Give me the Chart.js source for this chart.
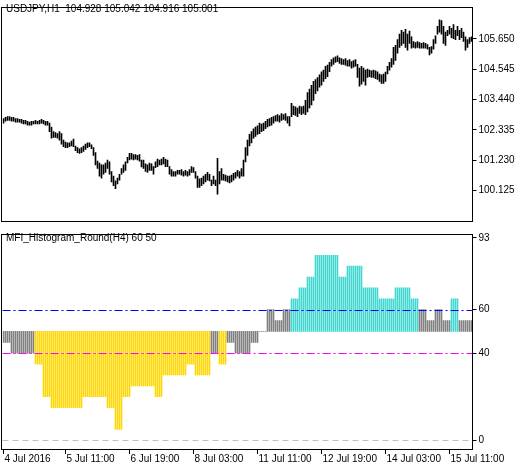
<!DOCTYPE html>
<html><head><meta charset="utf-8">
<script src="https://cdn.jsdelivr.net/npm/chart.js@4"></script>
<style>
body{margin:0;background:#fff;width:524px;height:469px;position:relative;overflow:hidden;font-family:'Liberation Sans',sans-serif}
canvas{position:absolute;left:0}
.t{position:absolute;font-size:10px;color:#000;white-space:pre}
</style></head><body>
<canvas id="c1" style="top:0" width="524" height="229"></canvas>
<canvas id="c2" style="top:227px" width="524" height="242"></canvas>
<div class="t" style="left:6px;top:3px">USDJPY,H1  104.928 105.042 104.916 105.001</div>
<div class="t" style="left:6px;top:232px">MFI_Histogram_Round(H4) 60 50</div>
<script>
const highs=[102.75,102.79,102.82,102.82,102.79,102.79,102.75,102.75,102.72,102.72,
102.68,102.68,102.65,102.62,102.65,102.65,102.68,102.65,102.68,102.72,
102.68,102.65,102.65,102.58,102.44,102.27,102.24,102.20,102.27,102.20,
101.96,101.89,101.86,101.86,101.93,102.0,101.75,101.69,101.65,101.69,
101.75,101.82,101.86,101.86,101.79,101.69,101.51,101.20,101.13,101.06,
101.06,101.13,101.24,101.17,100.82,100.65,100.48,100.58,100.72,100.93,
101.06,101.17,101.34,101.48,101.48,101.44,101.44,101.41,101.44,101.24,
101.24,101.10,101.06,101.13,101.10,101.0,101.17,101.27,101.24,101.27,
101.34,101.27,101.24,101.0,100.89,100.82,100.82,100.86,100.86,100.89,
100.82,100.86,100.82,100.89,101.0,100.96,100.82,100.65,100.55,100.58,
100.65,100.72,100.79,100.72,100.51,100.65,100.51,101.30,100.82,100.93,
100.72,100.69,100.65,100.65,100.69,100.75,100.79,100.86,100.82,100.93,
101.24,101.69,101.96,102.17,102.27,102.37,102.44,102.48,102.58,102.55,
102.58,102.65,102.72,102.75,102.79,102.82,102.86,102.89,102.86,102.93,
102.89,102.93,102.82,102.82,103.30,103.20,103.17,103.13,103.20,103.17,
103.20,103.41,103.69,103.82,103.96,104.10,104.17,104.24,104.34,104.45,
104.51,104.65,104.69,104.79,104.89,104.96,104.99,105.03,104.96,104.93,
104.89,104.93,104.86,104.89,104.82,104.86,104.89,104.72,104.58,104.65,
104.58,104.51,104.55,104.51,104.48,104.51,104.48,104.45,104.37,104.34,
104.37,104.44,104.65,104.79,104.93,105.34,105.41,105.62,105.82,105.96,
105.89,105.99,105.82,105.93,105.72,105.55,105.51,105.55,105.51,105.48,
105.51,105.48,105.44,105.34,105.37,105.62,105.76,106.10,106.34,106.31,
106.10,105.89,105.96,106.10,106.03,106.17,105.96,106.10,105.96,106.03,
105.89,105.72,105.62,105.69,105.72];
const lows=[102.58,102.65,102.68,102.68,102.65,102.65,102.62,102.62,102.62,102.58,
102.55,102.55,102.51,102.51,102.51,102.55,102.55,102.55,102.55,102.58,
102.55,102.51,102.51,102.27,102.03,102.06,102.06,102.03,101.96,101.82,
101.72,101.69,101.69,101.72,101.75,101.72,101.58,101.51,101.48,101.51,
101.55,101.62,101.69,101.72,101.65,101.41,101.06,100.93,100.65,100.58,
100.72,100.79,100.93,100.72,100.44,100.31,100.20,100.37,100.51,100.72,
100.79,100.86,101.13,101.24,101.27,101.24,101.27,101.24,101.20,100.99,
100.93,100.82,100.79,100.86,100.86,100.72,100.96,101.0,101.06,101.06,
101.10,101.0,101.0,100.72,100.65,100.65,100.65,100.72,100.72,100.69,
100.65,100.69,100.65,100.69,100.79,100.79,100.58,100.24,100.24,100.31,
100.37,100.44,100.51,100.48,100.31,100.37,100.31,100.0,100.37,100.51,
100.51,100.48,100.44,100.41,100.44,100.51,100.58,100.65,100.58,100.65,
100.65,101.17,101.41,101.75,101.86,102.03,102.10,102.17,102.20,102.27,
102.31,102.38,102.44,102.48,102.51,102.58,102.65,102.65,102.62,102.68,
102.72,102.68,102.58,102.48,102.82,102.89,102.86,102.82,102.93,102.89,
102.93,102.89,102.99,103.13,103.24,103.41,103.65,103.75,103.89,103.96,
104.10,104.20,104.27,104.45,104.65,104.72,104.79,104.82,104.75,104.72,
104.72,104.69,104.65,104.65,104.58,104.62,104.65,104.24,103.93,104.0,
104.10,103.96,104.24,104.27,104.24,104.24,104.20,104.17,104.10,104.03,
104.03,104.10,104.37,104.51,104.62,104.72,104.86,105.13,105.34,105.41,
105.48,105.34,105.24,105.48,105.31,105.34,105.31,105.34,105.31,105.31,
105.31,105.31,105.27,105.06,105.13,105.27,105.48,105.82,105.89,105.82,
105.48,105.41,105.76,105.82,105.69,105.65,105.62,105.76,105.62,105.69,
105.55,105.24,105.34,105.48,105.55];
const priceTicks=[100.125,101.230,102.335,103.440,104.545,105.650];
// MFI rounded values on the H4 timeframe (each spans four H1 bars)
const mfiH4=[45,40,40,40,35,20,15,15,15,15,20,20,20,15,5,20,25,25,25,20,30,30,30,35,30,30,40,35,45,40,40,45,50,60,55,60,65,70,75,85,85,85,75,80,80,70,70,65,65,70,70,65,60,55,60,55,65,55,55];
const mfiTicks=[93,60,40,0];
const levels=[60,40,0];
const levelColors=['#0000ff','#ff00ff','#c0c0c0'];
const timeLabels=['4 Jul 2016','5 Jul 11:00','6 Jul 19:00','8 Jul 03:00','11 Jul 11:00','12 Jul 19:00','14 Jul 03:00','15 Jul 11:00'];
const timeIdx=[0,31,63,95,127,159,191,223];

const idx=highs.map((_,i)=>i);
const mfi=idx.map(i=>mfiH4[Math.floor(i/4)]);
const FONT={family:'Liberation Sans',size:10};
Chart.defaults.animation=false;

const frame={id:'frame',afterDraw(c){const a=c.chartArea,x=c.ctx;x.save();x.strokeStyle='#000';x.lineWidth=1;
x.strokeRect(Math.floor(a.left)+0.5-1,Math.floor(a.top)+0.5-1,Math.round(a.right-a.left)+1,Math.round(a.bottom-a.top)+1);x.restore();}};

function yAxis(min,max,ticks,fmt){return{position:'right',min,max,
 afterBuildTicks(s){s.ticks=ticks.map(v=>({value:v}));},
 afterFit(s){s.width=51.5;},
 border:{display:false},
 grid:{drawOnChartArea:false,drawTicks:true,tickLength:4,color:'#000'},
 ticks:{color:'#000',font:FONT,padding:2,callback:fmt}};}

new Chart(document.getElementById('c1'),{type:'bar',
 data:{labels:idx,datasets:[{data:idx.map(i=>[lows[i],highs[i]]),backgroundColor:'#000',barThickness:1,grouped:false}]},
 options:{responsive:false,layout:{padding:{left:2.5,top:2,bottom:2}},
  plugins:{legend:{display:false},tooltip:{enabled:false}},
  scales:{x:{display:false},y:yAxis(99.02,106.77,priceTicks,v=>v.toFixed(3))}},
 plugins:[frame]});

const lvl={id:'lvl',afterDatasetsDraw(c){const a=c.chartArea,x=c.ctx,y=c.scales.y;x.save();x.lineWidth=1;
 levels.forEach((v,k)=>{const py=Math.round(y.getPixelForValue(v))+0.5;x.strokeStyle=levelColors[k];
 x.setLineDash(k==2?[6,4]:[8,3,2,3]);x.beginPath();x.moveTo(a.left,py);x.lineTo(a.right,py);x.stroke();});x.restore();},
 afterDraw(c){const a=c.chartArea,x=c.ctx,s=c.scales.x;x.save();x.fillStyle='#000';x.strokeStyle='#000';x.font='10px Liberation Sans';x.textBaseline='top';
 timeIdx.forEach((t,k)=>{const px=Math.floor(s.getPixelForValue(t))+0.5;x.beginPath();x.moveTo(px,a.bottom);x.lineTo(px,a.bottom+5);x.stroke();x.fillText(timeLabels[k],px+1,a.bottom+5);});x.restore();}};

new Chart(document.getElementById('c2'),{type:'bar',
 data:{labels:idx,datasets:[{data:mfi.map(v=>[50,v]),barThickness:1,grouped:false,
  backgroundColor:mfi.map(v=>v>60?'#40d8d0':v<40?'#ffd700':'#808080')}]},
 options:{responsive:false,layout:{padding:{left:2.5,top:1,bottom:20}},
  plugins:{legend:{display:false},tooltip:{enabled:false}},
  scales:{x:{display:false},y:yAxis(-4,94.3,mfiTicks,v=>String(v))}},
 plugins:[frame,lvl]});
</script></body></html>
